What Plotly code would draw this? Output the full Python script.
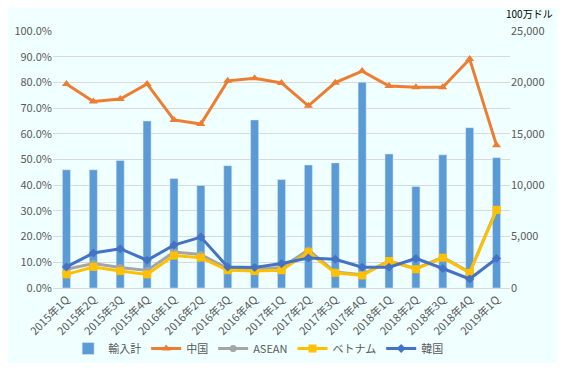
import plotly.graph_objects as go

categories = ["2015年1Q","2015年2Q","2015年3Q","2015年4Q","2016年1Q","2016年2Q","2016年3Q","2016年4Q",
              "2017年1Q","2017年2Q","2017年3Q","2017年4Q","2018年1Q","2018年2Q","2018年3Q","2018年4Q","2019年1Q"]
imports_total = [11500, 11500, 12400, 16250, 10650, 9980, 11900, 16350,
                 10550, 11970, 12170, 20020, 13040, 9880, 12950, 15600, 12680]
china = [79.4, 72.6, 73.5, 79.4, 65.4, 63.8, 80.6, 81.6, 79.8, 70.9, 79.9, 84.4, 78.6, 78.1, 78.1, 89.1, 55.5]
asean = [7.3, 9.5, 8.0, 6.8, 14.0, 13.0, 7.6, 7.3, 8.0, 14.8, 6.2, 5.2, 10.6, 7.5, 12.0, 6.1, 30.6]
vietnam = [5.3, 8.2, 6.6, 5.3, 12.6, 11.8, 6.9, 6.6, 6.9, 13.9, 5.9, 4.9, 10.5, 7.3, 11.8, 5.9, 30.4]
korea = [8.2, 13.6, 15.3, 10.8, 16.7, 19.8, 8.2, 8.0, 9.5, 11.7, 11.2, 8.1, 8.1, 11.5, 7.6, 3.5, 11.5]

font_family = "Noto Sans CJK JP, Noto Sans, sans-serif"
tick_color = "#595959"

fig = go.Figure()
fig.add_trace(go.Bar(x=categories, y=imports_total, name="輸入計", marker_color="#5B9BD5",
                     yaxis="y2"))
fig.add_trace(go.Scatter(x=categories, y=china, name="中国", mode="lines+markers",
                         line=dict(color="#ED7D31", width=3),
                         marker=dict(symbol="triangle-up", size=8, color="#ED7D31")))
fig.add_trace(go.Scatter(x=categories, y=asean, name="ASEAN", mode="lines+markers",
                         line=dict(color="#A5A5A5", width=3),
                         marker=dict(symbol="circle", size=7, color="#A5A5A5")))
fig.add_trace(go.Scatter(x=categories, y=vietnam, name="ベトナム", mode="lines+markers",
                         line=dict(color="#FFC000", width=3),
                         marker=dict(symbol="square", size=8, color="#FFC000")))
fig.add_trace(go.Scatter(x=categories, y=korea, name="韓国", mode="lines+markers",
                         line=dict(color="#4472C4", width=3),
                         marker=dict(symbol="diamond", size=7, color="#4472C4")))

fig.update_layout(
    width=549, height=355,
    margin=dict(l=45, r=47, t=23, b=75, autoexpand=False),
    paper_bgcolor="#F0FFFF", plot_bgcolor="#F0FFFF",
    font=dict(family=font_family, size=11, color=tick_color),
    bargap=0.7,
    xaxis=dict(tickangle=-45, showgrid=False, showline=True, linecolor="#D9D9D9",
               range=[-0.5, len(categories) - 0.5],
               tickfont=dict(size=11, color=tick_color), ticks="", automargin=False),
    yaxis=dict(range=[0, 100], dtick=10, ticksuffix="%", tickformat=".1f",
               showgrid=True, gridcolor="#D9D9D9", zeroline=False, automargin=False,
               tickfont=dict(size=11, color=tick_color), overlaying="y2"),
    yaxis2=dict(range=[0, 25000], dtick=5000, side="right", tickformat=",",
                showgrid=False, zeroline=False, automargin=False,
                tickfont=dict(size=11, color=tick_color)),
    legend=dict(orientation="h", x=0.45, xanchor="center", yref="container", y=0.0,
                yanchor="bottom", font=dict(size=11, color=tick_color),
                bgcolor="rgba(0,0,0,0)", traceorder="normal", itemwidth=30,
                tracegroupgap=0),
    annotations=[dict(text="100万ドル", xref="paper", yref="paper", x=1.098, y=1.031,
                      xanchor="right", yanchor="bottom", showarrow=False,
                      font=dict(size=10, color="#000000"))],
    showlegend=True,
)

fig.write_html("out.html")
